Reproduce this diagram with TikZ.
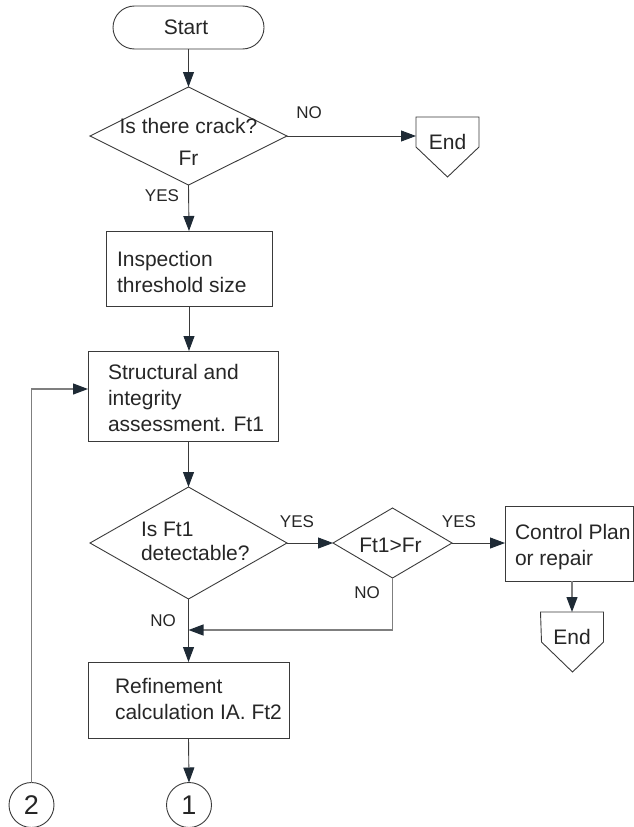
\documentclass[tikz,border=0pt]{standalone}
\usepackage{fontspec}
\setmainfont{Liberation Sans}
\usetikzlibrary{arrows.meta,shapes.geometric,calc}
\definecolor{txt}{HTML}{262626}
\definecolor{ln}{HTML}{3A3A3A}
\definecolor{lg}{HTML}{7F7F7F}
\definecolor{tipc}{HTML}{1E2A35}
\tikzset{
  every node/.style={text=txt, inner sep=0pt, outer sep=0pt},
  body/.style={font=\fontsize{21}{26}\selectfont},
  lbl/.style={font=\fontsize{17}{20}\selectfont},
  procbox/.style={draw=ln, line width=0.9pt, rectangle},
  decision/.style={draw=ln, line width=0.9pt, diamond},
  terminal/.style={draw=ln, line width=0.9pt, rectangle, rounded corners=21.5pt},
  conn/.style={draw=ln, line width=0.9pt, circle, minimum size=45pt, font=\fontsize{27}{30}\selectfont},
  endtag/.style={rectangle, minimum width=63pt, minimum height=49pt, anchor=north, body},
  arr/.style={draw=ln, line width=0.9pt, -{Triangle[length=15pt,width=11pt,color=tipc]}},
  grayarr/.style={draw=lg, line width=1.2pt, -{Triangle[length=15pt,width=11pt,color=tipc]}},
  pent/.style={draw=ln, line width=0.9pt}
}
\begin{document}
\begin{tikzpicture}[x=1pt,y=-1pt]
\useasboundingbox (0,0) rectangle (634,827);

% Start
\node[terminal, minimum width=151pt, minimum height=43pt] (start) at (188.5,27.5) {};
\node[body, anchor=base] (startt) at (186,34) {Start};

% Decision 1
\node[decision, minimum width=197pt, minimum height=98pt] (d1) at (188.5,136) {};
\node[body, align=center, anchor=base] (d1t) at (188.5,165) {Is there crack?\\[6pt]Fr};

% End 1
\node[endtag] (e1) at (447.5,117) {End};
\draw[pent] (e1.north west) -- (e1.north east) -- ++(0,30) -- ++(-31.5,30) -- ++(-31.5,-30) -- cycle;

% Inspection
\node[procbox, minimum width=166pt, minimum height=75pt] (insp) at (189,268.5) {};
\node[body, align=left, anchor=base west] (inspt) at (117,292) {Inspection\\threshold size};

% Structural
\node[procbox, minimum width=190pt, minimum height=90pt] (struct) at (183,396) {};
\node[body, align=left, anchor=base west] (structt) at (108,431) {Structural and\\integrity\\assessment. Ft1};

% Decision 2
\node[decision, minimum width=197pt, minimum height=112pt] (d2) at (188.5,543) {};
\node[body, align=left, anchor=base west] (d2t) at (141,560) {Is Ft1\\[-2pt]detectable?};

% Decision 3
\node[decision, minimum width=119pt, minimum height=70pt] (d3) at (392.5,543) {};
\node[body, anchor=base] (d3t) at (390.5,552) {Ft1>Fr};

% Control plan
\node[procbox, minimum width=128pt, minimum height=75pt] (ctrl) at (569,543.5) {};
\node[body, align=left, anchor=base west] (ctrlt) at (515,565) {Control Plan\\or repair};

% End 2
\node[endtag] (e2) at (572,612) {End};
\draw[pent] (e2.north west) -- (e2.north east) -- ++(0,30) -- ++(-31,30) -- ++(-31,-30) -- cycle;

% Refinement
\node[procbox, minimum width=201pt, minimum height=76pt] (ref) at (188.5,700) {};
\node[body, align=left, anchor=base west] (reft) at (115,719) {Refinement\\calculation IA. Ft2};

% Connectors
\node[conn] (c1) at (189,805) {1};
\node[conn] (c2) at (31.5,805) {2};

\coordinate (mrg) at (188.5,630);
\coordinate (fbin) at ($(struct.west)+(0,-7)$);

% Arrows
\draw[arr] (start.south) -- (d1.north);
\draw[arr] (d1.east) -- (d1.east -| e1.west);
\draw[arr] (d1.south) -- (insp.north);
\draw[arr] (insp.south) -- (insp.south |- struct.north);
\draw[arr] (struct.south -| d2.north) -- (d2.north);
\draw[arr] (d2.east) -- (d3.west);
\draw[arr] (d3.east) -- (ctrl.west |- d3.east);
\draw[grayarr] (ctrl.south -| e2.north) -- (e2.north);
\draw[arr] (d2.south) -- (ref.north);
\draw[grayarr] (d3.south) |- (mrg);
\draw[arr] (ref.south) -- (c1.north);
\draw[grayarr] (c2.north) |- (fbin);

% Labels
\node[lbl] (no1) at (309,113) {NO};
\node[lbl] (yes1) at (162,196) {YES};
\node[lbl] (yes2) at (297,522) {YES};
\node[lbl] (yes3) at (459,522) {YES};
\node[lbl] (no2) at (367,593) {NO};
\node[lbl] (no3) at (163,621) {NO};
\end{tikzpicture}
\end{document}
